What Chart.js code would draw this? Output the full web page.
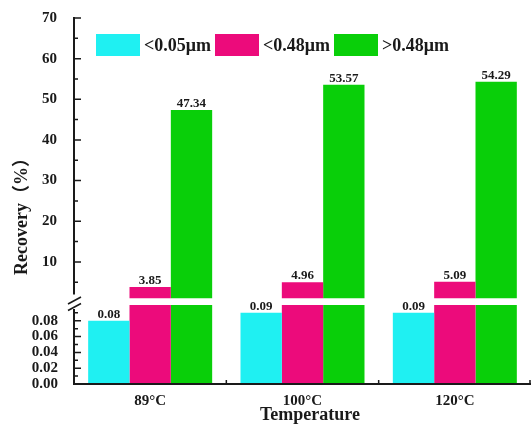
<!DOCTYPE html>
<html>
<head>
<meta charset="utf-8">
<script src="https://cdn.jsdelivr.net/npm/chart.js@4/dist/chart.umd.min.js"></script>
<style>
  html, body { margin: 0; padding: 0; background: #ffffff; }
  #wrap { width: 531px; height: 434px; position: relative; }
</style>
</head>
<body>
<div id="wrap"><canvas id="c"></canvas></div>
<script>
// Recovery by particle size class at three temperatures
const categories = ['89°C', '100°C', '120°C'];
const seriesNames = ['<0.05μm', '<0.48μm', '>0.48μm'];
const fineValues = [0.08, 0.09, 0.09];      // <0.05μm
const midValues = [3.85, 4.96, 5.09];       // <0.48μm
const coarseValues = [47.34, 53.57, 54.29]; // >0.48μm
const upperTicks = [10, 20, 30, 40, 50, 60, 70];
const lowerTicks = [0, 0.02, 0.04, 0.06, 0.08];
const upperRange = [1, 70];   // visible range of the upper panel
const lowerRange = [0, 0.1];  // visible range of the lower panel

const series = [fineValues, midValues, coarseValues];
const colors = ['#1ff0f2', '#ec0b7b', '#09cf09'];
const FONT = "'Liberation Serif', 'Times New Roman', 'Noto Sans CJK SC', serif";
const INK = '#1a1a1a';

// every series is drawn twice: once in each panel of the broken axis
const datasets = [];
series.forEach((values, i) => {
  ['yHigh', 'yLow'].forEach(axis => {
    datasets.push({
      label: seriesNames[i],
      data: values,
      yAxisID: axis,
      stack: 's' + i,
      backgroundColor: colors[i],
      borderWidth: 0,
      categoryPercentage: 0.814,
      barPercentage: 1.0
    });
  });
});

// keep each copy inside its own panel
const panelClip = {
  id: 'panelClip',
  beforeDatasetDraw(chart, args) {
    const meta = args.meta;
    const y = chart.scales[meta.yAxisID];
    const range = meta.yAxisID === 'yHigh' ? upperRange : lowerRange;
    const top = y.getPixelForValue(range[1]);
    const bottom = y.getPixelForValue(range[0]);
    const a = chart.chartArea;
    const ctx = chart.ctx;
    ctx.save();
    ctx.beginPath();
    ctx.rect(a.left, top, a.right - a.left, bottom - top);
    ctx.clip();
  },
  afterDatasetDraw(chart) {
    chart.ctx.restore();
  }
};

// axis lines, inward ticks and the break marks
const brokenAxes = {
  id: 'brokenAxes',
  afterDatasetsDraw(chart) {
    const ctx = chart.ctx;
    const a = chart.chartArea;
    const hi = chart.scales.yHigh;
    const lo = chart.scales.yLow;
    const x = chart.scales.x;
    const ax = a.left;
    const hiBottom = hi.getPixelForValue(upperRange[0]);
    const loTop = lo.getPixelForValue(lowerRange[1]);
    ctx.save();
    ctx.strokeStyle = INK;
    ctx.lineCap = 'butt';

    // vertical axis, interrupted at the break
    ctx.lineWidth = 2;
    ctx.beginPath();
    ctx.moveTo(ax, hi.getPixelForValue(upperRange[1]) - 1);
    ctx.lineTo(ax, hiBottom - 4);
    ctx.moveTo(ax, loTop + 4);
    ctx.lineTo(ax, a.bottom);
    ctx.stroke();

    // break marks
    ctx.lineWidth = 1.6;
    const marks = [hiBottom + 2, loTop + 2];
    ctx.beginPath();
    marks.forEach(my => {
      ctx.moveTo(ax - 6, my + 3.5);
      ctx.lineTo(ax + 7, my - 3.5);
    });
    ctx.stroke();

    // ticks
    ctx.lineWidth = 1.5;
    ctx.beginPath();
    upperTicks.forEach(t => {
      const py = hi.getPixelForValue(t);
      ctx.moveTo(ax, py); ctx.lineTo(ax + 7, py);
      const pm = hi.getPixelForValue(t - 5);
      ctx.moveTo(ax, pm); ctx.lineTo(ax + 4, pm);
    });
    lowerTicks.forEach(t => {
      const py = lo.getPixelForValue(t);
      ctx.moveTo(ax, py); ctx.lineTo(ax + 7, py);
      const pm = lo.getPixelForValue(t + 0.01);
      ctx.moveTo(ax, pm); ctx.lineTo(ax + 4, pm);
    });
    ctx.stroke();

    // horizontal axis with ticks between categories
    ctx.lineWidth = 2;
    ctx.beginPath();
    ctx.moveTo(ax - 1, a.bottom);
    ctx.lineTo(a.right, a.bottom);
    ctx.stroke();
    ctx.lineWidth = 1.5;
    ctx.beginPath();
    const step = x.getPixelForValue(1) - x.getPixelForValue(0);
    categories.forEach((c, i) => {
      const px = Math.min(x.getPixelForValue(i) + step / 2, a.right - 1);
      ctx.moveTo(px, a.bottom); ctx.lineTo(px, a.bottom - 4);
    });
    ctx.stroke();
    ctx.restore();
  }
};

// value labels above the top of each bar, in the panel where the top lands
const valueLabels = {
  id: 'valueLabels',
  afterDatasetsDraw(chart) {
    const ctx = chart.ctx;
    ctx.save();
    ctx.font = 'bold 13px ' + FONT;
    ctx.fillStyle = INK;
    ctx.textAlign = 'center';
    ctx.textBaseline = 'alphabetic';
    series.forEach((values, i) => {
      values.forEach((v, j) => {
        const dsIndex = v > lowerRange[1] ? i * 2 : i * 2 + 1;
        const bar = chart.getDatasetMeta(dsIndex).data[j];
        ctx.fillText(v.toFixed(2), bar.x, bar.y - 3);
      });
    });
    ctx.restore();
  }
};

// legend row inside the plot and the two axis titles
const decorations = {
  id: 'decorations',
  afterDraw(chart) {
    const ctx = chart.ctx;
    const a = chart.chartArea;
    ctx.save();
    ctx.font = 'bold 18px ' + FONT;
    ctx.textBaseline = 'middle';
    ctx.textAlign = 'left';
    const top = a.top + 16, boxW = 44, boxH = 22, pitch = 119;
    seriesNames.forEach((name, i) => {
      const left = a.left + 22 + i * pitch;
      ctx.fillStyle = colors[i];
      ctx.fillRect(left, top, boxW, boxH);
      ctx.fillStyle = INK;
      ctx.fillText(name, left + boxW + 4, top + boxH / 2 + 1);
    });

    ctx.textAlign = 'center';
    ctx.fillText('Temperature', 310, 415);

    ctx.translate(22, 212);
    ctx.rotate(-Math.PI / 2);
    ctx.fillText('Recovery（%）', 0, 0);
    ctx.restore();
  }
};

const tickFont = { family: FONT, size: 15, weight: 'bold' };

new Chart(document.getElementById('c'), {
  type: 'bar',
  data: { labels: categories, datasets },
  options: {
    responsive: true,
    maintainAspectRatio: false,
    animation: false,
    devicePixelRatio: 1,
    layout: { padding: { top: 16, left: 0, right: 0, bottom: 0 } },
    plugins: {
      legend: { display: false },
      tooltip: { enabled: false }
    },
    scales: {
      x: {
        offset: true,
        grid: { display: false },
        border: { display: false },
        ticks: { font: tickFont, color: INK, padding: 0, maxRotation: 0 },
        afterFit(s) { s.height = 50; }
      },
      yLow: {
        type: 'linear',
        position: 'left',
        stack: 'v',
        stackWeight: 86,
        stacked: false,
        min: lowerRange[0],
        max: 0.1082,
        grid: { display: false },
        border: { display: false },
        ticks: { font: tickFont, color: INK, padding: 8, autoSkip: false,
                 callback: v => Number(v).toFixed(2) },
        afterBuildTicks(s) { s.ticks = lowerTicks.map(v => ({ value: v })); },
        afterFit(s) { s.width = 74; }
      },
      yHigh: {
        type: 'linear',
        position: 'left',
        stack: 'v',
        stackWeight: 282,
        stacked: false,
        min: upperRange[0],
        max: upperRange[1],
        grid: { display: false },
        border: { display: false },
        ticks: { font: tickFont, color: INK, padding: 9, autoSkip: false },
        afterBuildTicks(s) { s.ticks = upperTicks.map(v => ({ value: v })); },
        afterFit(s) { s.width = 74; }
      }
    }
  },
  plugins: [panelClip, brokenAxes, valueLabels, decorations]
});
</script>
</body>
</html>
